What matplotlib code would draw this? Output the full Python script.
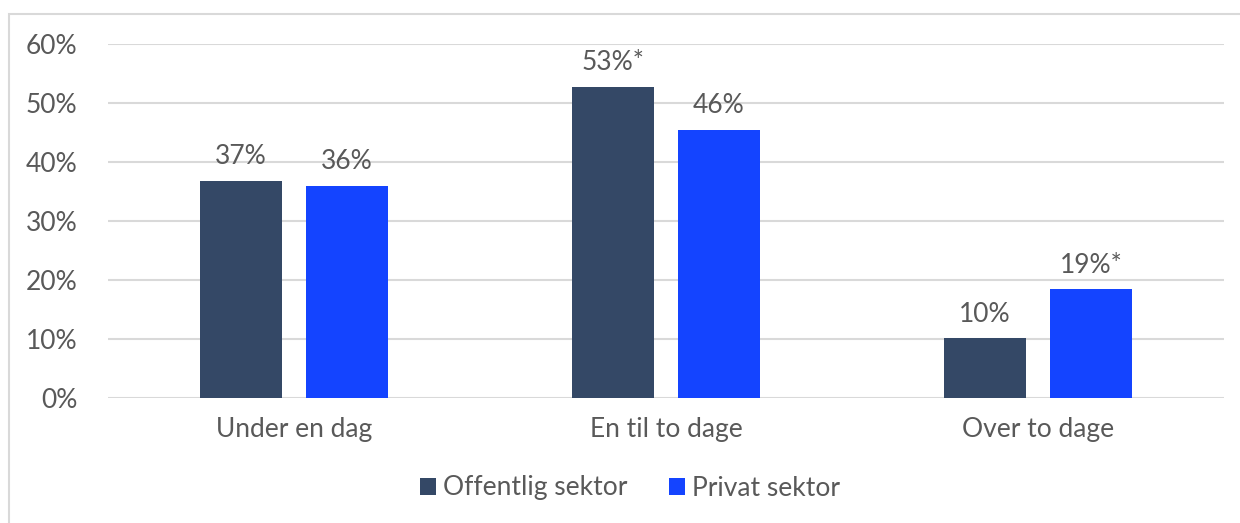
import matplotlib.pyplot as plt
from matplotlib.patches import Rectangle
import numpy as np

categories = ["Under en dag", "En til to dage", "Over to dage"]
offentlig = [36.8, 52.7, 10.1]
privat = [35.9, 45.4, 18.4]
offentlig_labels = ["37%", "53%*", "10%"]
privat_labels = ["36%", "46%", "19%*"]

dark = "#344866"
blue = "#1444FF"
txt = "#595959"

plt.rcParams['font.family'] = ['Lato', 'DejaVu Sans']
fs = 19

fig = plt.figure(figsize=(12.4, 5.23), dpi=100)
ax = fig.add_axes([108/1240, 125/523, 1116/1240, 354/523])

# light frame around the chart
fig.patches.append(Rectangle((9/1240, -0.1), 1.2, 1 - 14/523 + 0.1,
                             transform=fig.transFigure, fill=False,
                             edgecolor="#d9d9d9", linewidth=1.5))

x = np.arange(len(categories))
w = 0.223
off = 0.1425
b1 = ax.bar(x - off, offentlig, w, color=dark, label="Offentlig sektor", zorder=3)
b2 = ax.bar(x + off, privat, w, color=blue, label="Privat sektor", zorder=3)

for bars, labels in ((b1, offentlig_labels), (b2, privat_labels)):
    for b, lab in zip(bars, labels):
        ax.text(b.get_x() + b.get_width() / 2, b.get_height() + 2.0, lab,
                ha="center", va="bottom", fontsize=fs, color=txt)

ax.set_xlim(-0.5, 2.5)
ax.set_ylim(0, 60)
ax.set_yticks(range(0, 61, 10))
ax.set_yticklabels([f"{v}%" for v in range(0, 61, 10)])
ax.set_xticks(x)
ax.set_xticklabels(categories)
ax.yaxis.grid(True, color="#d9d9d9", linewidth=1.5, zorder=0)
ax.tick_params(length=0, labelsize=fs, labelcolor=txt)
ax.tick_params(axis="y", pad=22)
ax.tick_params(axis="x", pad=14)
for s in ax.spines.values():
    s.set_visible(False)

leg = fig.legend(loc="center", bbox_to_anchor=(630/1240, 1 - 488/523), ncol=2,
                 frameon=False, fontsize=fs, handlelength=0.6, handleheight=0.6,
                 handletextpad=0.25, columnspacing=1.6, labelcolor=txt)

fig.savefig("out.png", dpi=100)
